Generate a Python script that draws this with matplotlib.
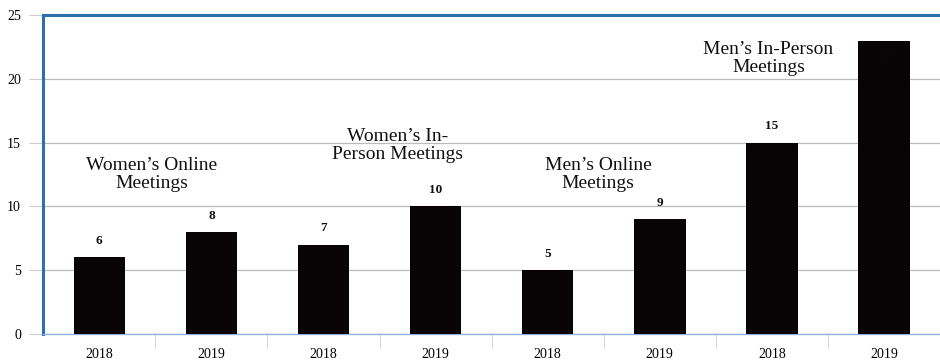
import matplotlib.pyplot as plt
import numpy as np

years = ['2018', '2019', '2018', '2019', '2018', '2019', '2018', '2019']
values = [6, 8, 7, 10, 5, 9, 15, 23]
groups = ["Women\u2019s Online\nMeetings", "Women\u2019s In-\nPerson Meetings",
          "Men\u2019s Online\nMeetings", "Men\u2019s In-Person\nMeetings"]
group_pos = [(0.47, 12.5), (2.66, 14.8), (4.45, 12.5), (5.97, 21.6)]

plt.rcParams['font.family'] = ['Liberation Serif', 'DejaVu Serif']

fig = plt.figure(figsize=(9.4, 3.61), dpi=100)
ax = fig.add_axes([0.046, 0.075, 0.954, 0.883])

x = np.arange(len(values))
bars = ax.bar(x, values, width=0.46, color='#080405', zorder=3)
for xi, v in zip(x, values):
    if v + 2 >= 25:
        # label falls inside the dark bar in the original, so it is not visible
        ax.text(xi, v - 1.5, str(v), ha='center', va='bottom', fontsize=9.5,
                fontweight='bold', color='#0a0607', zorder=4)
    else:
        ax.text(xi, v + 0.8, str(v), ha='center', va='bottom', fontsize=9.5,
                fontweight='bold', color='#111111')

for label, (gx, gy) in zip(groups, group_pos):
    ax.text(gx, gy, label, ha='center', va='center', fontsize=14,
            color='#111111', linespacing=1.1, zorder=4)

ax.set_xlim(-0.5, len(values) - 0.5)
ax.set_ylim(0, 25)
ax.set_yticks(range(0, 26, 5))
ax.set_xticks(x)
ax.set_xticklabels(years, fontsize=10)
ax.set_xticks(np.arange(0.5, len(values) - 0.5), minor=True)
ax.tick_params(axis='x', which='major', length=0, pad=10)
ax.tick_params(axis='x', which='minor', length=10, color='#cccccc')
ax.tick_params(axis='y', length=10, color='#cccccc', labelsize=10, pad=6)
ax.yaxis.grid(True, color='#bbbbbb', linewidth=0.9, zorder=0)

ax.spines['right'].set_visible(False)
ax.spines['top'].set_color('#2e6fae')
ax.spines['top'].set_linewidth(2.2)
ax.spines['left'].set_color('#2e6fae')
ax.spines['left'].set_linewidth(2.2)
ax.spines['bottom'].set_color('#8fb3d9')
ax.spines['bottom'].set_linewidth(1)

fig.savefig('out.png', dpi=100)
